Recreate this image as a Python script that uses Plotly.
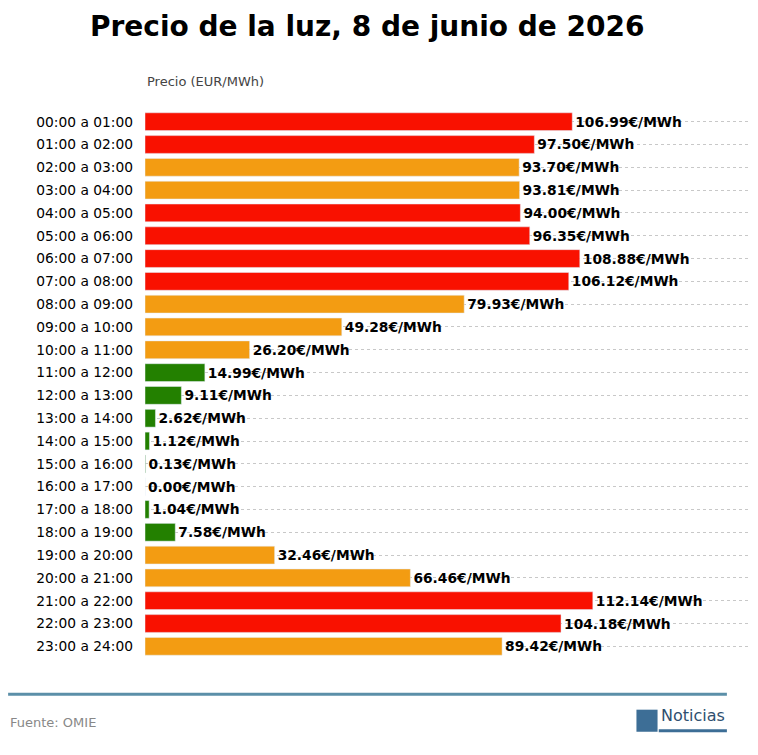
import plotly.graph_objects as go

horas = [f"{h:02d}:00 a {h+1:02d}:00" for h in range(24)]
precios = [106.99, 97.50, 93.70, 93.81, 94.00, 96.35, 108.88, 106.12, 79.93, 49.28,
           26.20, 14.99, 9.11, 2.62, 1.12, 0.13, 0.00, 1.04, 7.58, 32.46,
           66.46, 112.14, 104.18, 89.42]

def color(p):
    if p >= 94:
        return "#f91100"
    if p >= 20:
        return "#f39c12"
    return "#238000"

colores = [color(p) for p in precios]
etiquetas = [f"{p:.2f}€/MWh" for p in precios]

fig = go.Figure(go.Bar(
    y=horas, x=precios, orientation="h", marker_color=colores, width=0.78,
    text=etiquetas, textposition="outside", cliponaxis=False,
    textfont=dict(family="DejaVu Sans", size=13.8, color="black", weight="bold"),
))

# la página añade 8px de margen al body
fig.update_layout(
    width=750, height=747,
    margin=dict(l=137, r=10, t=100, b=95, autoexpand=False),
    plot_bgcolor="white", paper_bgcolor="white",
    font=dict(family="DejaVu Sans", size=13, color="black"),
    showlegend=False,
    title=dict(text="<b>Precio de la luz, 8 de junio de 2026</b>", x=0.479, xanchor="center",
               y=0.976, yanchor="middle", font=dict(size=28, color="black")),
    xaxis=dict(range=[0, 151], visible=False),
    yaxis=dict(showgrid=True, gridcolor="#c8c8c8", griddash="dot", automargin=False,
               gridwidth=1, ticks="", ticklabelstandoff=11, tickfont=dict(size=13.8),
               range=[23.6, -0.6], autorange=False),
)

fig.add_annotation(text="Precio (EUR/MWh)", xref="paper", yref="paper", x=0, y=1.03,
                   xanchor="left", yanchor="bottom", showarrow=False,
                   font=dict(size=13, color="#444444"))
fig.add_shape(type="line", xref="paper", yref="paper", x0=-0.227, x1=0.965, y0=-0.062, y1=-0.062,
              line=dict(color="#5b8fa8", width=3))
fig.add_annotation(text="Fuente: OMIE", xref="paper", yref="paper", x=-0.227, y=-0.113,
                   xanchor="left", yanchor="middle", showarrow=False,
                   font=dict(size=13, color="#888888"))
fig.add_shape(type="rect", xref="paper", yref="paper", x0=0.815, x1=0.85, y0=-0.09, y1=-0.13,
              fillcolor="#3d6e96", line=dict(width=0))
fig.add_annotation(text="Noticias", xref="paper", yref="paper", x=0.852, y=-0.1,
                   xanchor="left", yanchor="middle", showarrow=False,
                   font=dict(size=16, color="#2f4f6f"))
fig.add_shape(type="line", xref="paper", yref="paper", x0=0.852, x1=0.965, y0=-0.128, y1=-0.128,
              line=dict(color="#3d6e96", width=3))

fig.write_html("out.html")
